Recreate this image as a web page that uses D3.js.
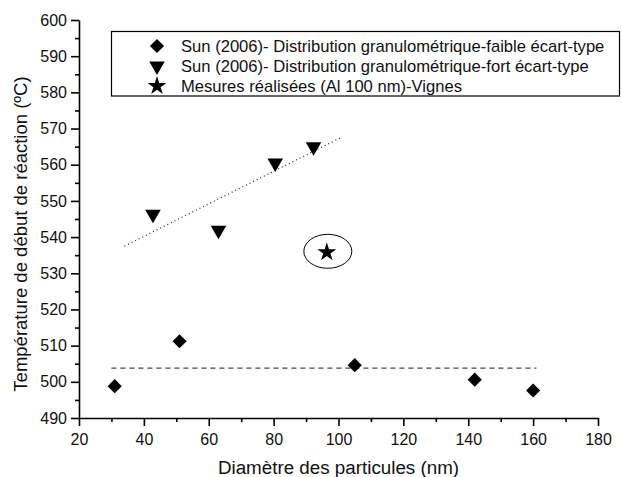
<!DOCTYPE html>
<html lang="fr">
<head>
<meta charset="UTF-8">
<title>Température de début de réaction</title>
<script src="https://d3js.org/d3.v7.min.js"></script>
<style>
    body { margin: 0; padding: 0; background: #fff; }
    svg { display: block; font-family: "Liberation Sans", Arial, sans-serif; }
    .axis path, .axis line { stroke: #000; stroke-width: 1.6; }
    .axis text { font-size: 16px; fill: #111; font-family: "Liberation Sans", Arial, sans-serif; }
</style>
</head>
<body>
<div id="chart"></div>
<script>
// données
const faibleX = [31, 51, 105, 142, 160];
const faibleY = [498.8, 511.2, 504.6, 500.6, 497.6];
const fortX = [42.8, 63, 80.5, 92.3];
const fortY = [546.3, 541.9, 560.5, 565];
const mesureX = [96.4];
const mesureY = [535.8];
// droites de tendance (début, fin)
const tendFaible = [[30, 503.8], [161, 503.8]];
const tendFort = [[34, 537.5], [100.5, 567.4]];
const legendLabels = [
    "Sun (2006)- Distribution granulométrique-faible écart-type",
    "Sun (2006)- Distribution granulométrique-fort écart-type",
    "Mesures réalisées (Al 100 nm)-Vignes"
];
const xTicks = [20, 40, 60, 80, 100, 120, 140, 160, 180];
const yTicks = [490, 500, 510, 520, 530, 540, 550, 560, 570, 580, 590, 600];

const width = 622, height = 477;
const margin = {left: 79, right: 24, top: 20, bottom: 59};

const svg = d3.select("#chart").append("svg")
    .attr("width", width).attr("height", height);

const x = d3.scaleLinear().domain([20, 180]).range([margin.left, width - margin.right]);
const y = d3.scaleLinear().domain([490, 600]).range([height - margin.bottom, margin.top]);

// graduations secondaires
svg.append("g")
    .attr("class", "axis")
    .attr("transform", `translate(0,${y(490)})`)
    .call(d3.axisBottom(x).tickValues(d3.range(30, 180, 20)).tickSize(4).tickFormat(""))
    .call(g => g.select(".domain").remove());
svg.append("g")
    .attr("class", "axis")
    .attr("transform", `translate(${x(20)},0)`)
    .call(d3.axisLeft(y).tickValues(d3.range(495, 600, 10)).tickSize(4).tickFormat(""))
    .call(g => g.select(".domain").remove());

// axes principaux
svg.append("g")
    .attr("class", "axis")
    .attr("transform", `translate(0,${y(490)})`)
    .call(d3.axisBottom(x).tickValues(xTicks).tickSize(8).tickSizeOuter(0).tickPadding(5))
    .call(g => g.selectAll("text").attr("dy", "0.9em"));
svg.append("g")
    .attr("class", "axis")
    .attr("transform", `translate(${x(20)},0)`)
    .call(d3.axisLeft(y).tickValues(yTicks).tickSize(8).tickSizeOuter(0).tickPadding(4));

// titres des axes
svg.append("text")
    .attr("x", (x(20) + x(180)) / 2)
    .attr("y", 474)
    .attr("text-anchor", "middle")
    .style("font-size", "18.8px")
    .attr("fill", "#111")
    .text("Diamètre des particules (nm)");
svg.append("text")
    .attr("transform", `translate(27,${(y(490) + y(600)) / 2 + 15}) rotate(-90)`)
    .attr("text-anchor", "middle")
    .style("font-size", "18.5px")
    .attr("fill", "#111")
    .text("Température de début de réaction (ºC)");

// droites de tendance
const line = d3.line().x(d => x(d[0])).y(d => y(d[1]));
svg.append("path")
    .attr("d", line(tendFaible))
    .attr("fill", "none").attr("stroke", "#444").attr("stroke-width", 1.2)
    .attr("stroke-dasharray", "5,4");
svg.append("path")
    .attr("d", line(tendFort))
    .attr("fill", "none").attr("stroke", "#222").attr("stroke-width", 1.2)
    .attr("stroke-dasharray", "1,3");

// symboles
const diamond = d3.symbol().type(d3.symbolSquare).size(100);
const triangle = d3.symbol().type(d3.symbolTriangle).size(105);
const star = d3.symbol().type(d3.symbolStar).size(110);

svg.append("g").selectAll("path")
    .data(faibleX.map((v, i) => [v, faibleY[i]]))
    .join("path")
    .attr("d", diamond)
    .attr("transform", d => `translate(${x(d[0])},${y(d[1])}) rotate(45)`)
    .attr("fill", "#000");

svg.append("g").selectAll("path")
    .data(fortX.map((v, i) => [v, fortY[i]]))
    .join("path")
    .attr("d", triangle)
    .attr("transform", d => `translate(${x(d[0])},${y(d[1])}) rotate(180)`)
    .attr("fill", "#000");

svg.append("g").selectAll("path")
    .data(mesureX.map((v, i) => [v, mesureY[i]]))
    .join("path")
    .attr("d", star)
    .attr("transform", d => `translate(${x(d[0])},${y(d[1])})`)
    .attr("fill", "#000");

// ellipse autour de la mesure
svg.append("ellipse")
    .attr("cx", x(mesureX[0]) + 1)
    .attr("cy", y(mesureY[0]) - 1)
    .attr("rx", 24).attr("ry", 17)
    .attr("fill", "none").attr("stroke", "#000").attr("stroke-width", 1);

// légende
const leg = svg.append("g");
leg.append("rect")
    .attr("x", 111.5).attr("y", 31.5)
    .attr("width", 508).attr("height", 64.5)
    .attr("fill", "none").attr("stroke", "#000").attr("stroke-width", 1.2);
const legSymbols = [
    {sym: diamond, rot: 45},
    {sym: triangle, rot: 180},
    {sym: star, rot: 0}
];
legendLabels.forEach((lab, i) => {
    const cy = 46 + i * 20;
    leg.append("path")
        .attr("d", legSymbols[i].sym)
        .attr("transform", `translate(157,${cy}) rotate(${legSymbols[i].rot})`)
        .attr("fill", "#000");
    leg.append("text")
        .attr("x", 181)
        .attr("y", cy + 6)
        .style("font-size", "16.6px")
        .attr("fill", "#111")
        .text(lab);
});
</script>
</body>
</html>
